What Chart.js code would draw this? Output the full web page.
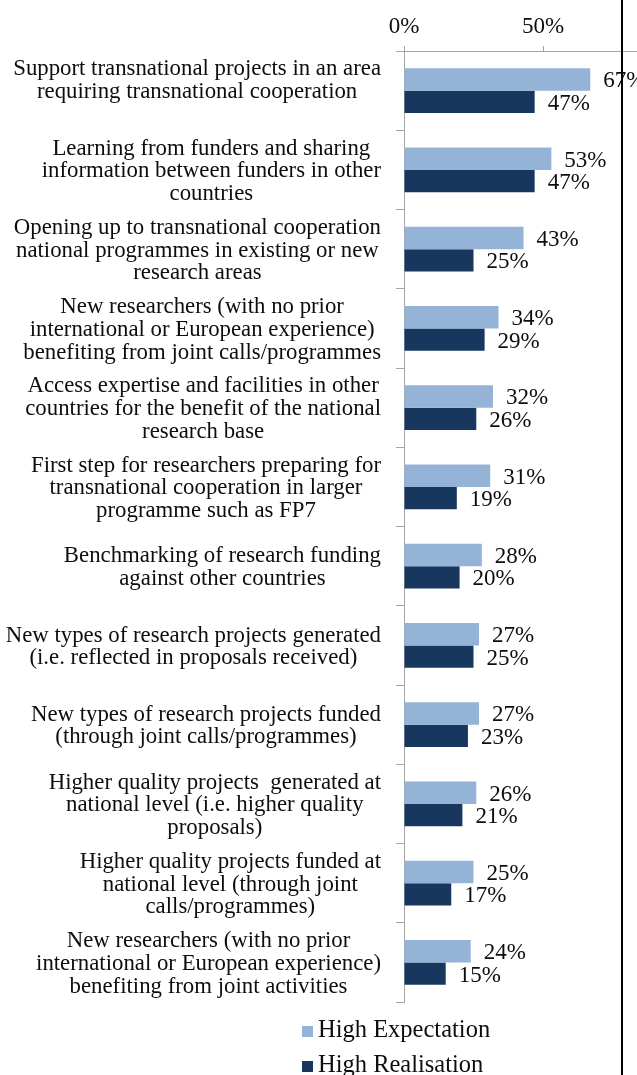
<!DOCTYPE html>
<html>
<head>
<meta charset="utf-8">
<script src="https://cdn.jsdelivr.net/npm/chart.js@4/dist/chart.umd.min.js"></script>
<style>
  html, body { margin: 0; padding: 0; background: #fff; overflow: hidden; }
  #wrap { position: relative; width: 637px; height: 1075px; overflow: hidden; }
  #wrap canvas { position: absolute; left: 0; top: 0; }
  #frame { position: absolute; left: 621px; top: 0; width: 2px; height: 1075px; background: #000; }
</style>
</head>
<body>
<div id="wrap">
  <canvas id="chart" width="760" height="1075"></canvas>
  <div id="frame"></div>
</div>
<script>
// Category labels, one array of lines per bar group
const categories = [
  ["Support transnational projects in an area", "requiring transnational cooperation", ""],
  ["Learning from funders and sharing", "information between funders in other", "countries"],
  ["Opening up to transnational cooperation", "national programmes in existing or new", "research areas"],
  ["New researchers (with no prior", "international or European experience)", "benefiting from joint calls/programmes"],
  ["Access expertise and facilities in other", "countries for the benefit of the national", "research base"],
  ["First step for researchers preparing for", "transnational cooperation in larger", "programme such as FP7"],
  ["Benchmarking of research funding", "against other countries"],
  ["New types of research projects generated", "(i.e. reflected in proposals received)"],
  ["New types of research projects funded", "(through joint calls/programmes)"],
  ["Higher quality projects  generated at", "national level (i.e. higher quality", "proposals)"],
  ["Higher quality projects funded at", "national level (through joint", "calls/programmes)"],
  ["New researchers (with no prior", "international or European experience)", "benefiting from joint activities"]
];

// Share of respondents (%)
const highExpectation = [67, 53, 43, 34, 32, 31, 28, 27, 27, 26, 25, 24];
const highRealisation = [47, 47, 25, 29, 26, 19, 20, 25, 23, 21, 17, 15];

const seriesNames = ["High Expectation", "High Realisation"];
const seriesColors = ["#95B3D7", "#17375E"];
const xTicks = [0, 50, 100];

const FONT = "'Liberation Serif', 'Times New Roman', serif";
const TEXT = "#0d0d0d";
const AXIS = "#a6a6a6";

// Multi-line category labels: each block is right-aligned to the axis,
// its lines centred within the block
const categoryLabels = {
  id: "categoryLabels",
  afterDraw(chart) {
    const ctx = chart.ctx;
    const yScale = chart.scales.y;
    const right = yScale.right - 23;
    const lineH = 22.7;
    ctx.save();
    ctx.font = "22.8px " + FONT;
    ctx.fillStyle = TEXT;
    ctx.textAlign = "center";
    ctx.textBaseline = "middle";
    categories.forEach((lines, i) => {
      const w = Math.max(...lines.map(l => ctx.measureText(l).width));
      const cx = right - w / 2;
      const cy = yScale.getPixelForTick(i) + 1.5;
      lines.forEach((line, j) => {
        ctx.fillText(line, cx, cy + (j - (lines.length - 1) / 2) * lineH);
      });
    });
    ctx.restore();
  }
};

// Value labels at the end of each bar
const valueLabels = {
  id: "valueLabels",
  afterDatasetsDraw(chart) {
    const ctx = chart.ctx;
    ctx.save();
    ctx.font = "23px " + FONT;
    ctx.fillStyle = TEXT;
    ctx.textAlign = "left";
    ctx.textBaseline = "middle";
    chart.data.datasets.forEach((ds, di) => {
      chart.getDatasetMeta(di).data.forEach((bar, i) => {
        ctx.fillText(ds.data[i] + "%", bar.x + 13, bar.y + 2);
      });
    });
    ctx.restore();
  }
};

// Stacked legend under the plot
const stackedLegend = {
  id: "stackedLegend",
  afterDraw(chart) {
    const ctx = chart.ctx;
    const top = chart.chartArea.bottom + 29;
    const rowH = 35;
    ctx.save();
    ctx.font = "24.5px " + FONT;
    ctx.textAlign = "left";
    ctx.textBaseline = "middle";
    chart.data.datasets.forEach((ds, i) => {
      const cy = top + i * rowH;
      ctx.fillStyle = ds.backgroundColor;
      ctx.fillRect(302, cy - 5, 11, 11);
      ctx.fillStyle = TEXT;
      ctx.fillText(ds.label, 318, cy);
    });
    ctx.restore();
  }
};

new Chart(document.getElementById("chart"), {
  type: "bar",
  data: {
    labels: categories,
    datasets: [
      { label: seriesNames[0], data: highExpectation, backgroundColor: seriesColors[0] },
      { label: seriesNames[1], data: highRealisation, backgroundColor: seriesColors[1] }
    ]
  },
  options: {
    indexAxis: "y",
    responsive: false,
    animation: false,
    layout: { padding: { top: 0, left: 0, right: 78, bottom: 73 } },
    datasets: {
      bar: { categoryPercentage: 0.565, barPercentage: 1.0, borderWidth: 0 }
    },
    plugins: {
      legend: { display: false },
      tooltip: { enabled: false }
    },
    scales: {
      x: {
        type: "linear",
        position: "top",
        min: 0,
        max: 100,
        afterBuildTicks(scale) { scale.ticks = xTicks.map(v => ({ value: v })); },
        afterFit(scale) { scale.height = 51; },
        ticks: {
          callback: v => v + "%",
          font: { family: FONT, size: 23 },
          color: TEXT,
          padding: 5,
          maxRotation: 0,
          autoSkip: false
        },
        grid: { drawOnChartArea: false, drawTicks: true, tickLength: 5, color: AXIS },
        border: { color: AXIS, width: 1 }
      },
      y: {
        type: "category",
        afterFit(scale) { scale.width = 404; },
        ticks: { display: false },
        grid: { offset: true, drawOnChartArea: false, drawTicks: true, tickLength: 8, color: AXIS },
        border: { color: AXIS, width: 1 }
      }
    }
  },
  plugins: [categoryLabels, valueLabels, stackedLegend]
});
</script>
</body>
</html>
